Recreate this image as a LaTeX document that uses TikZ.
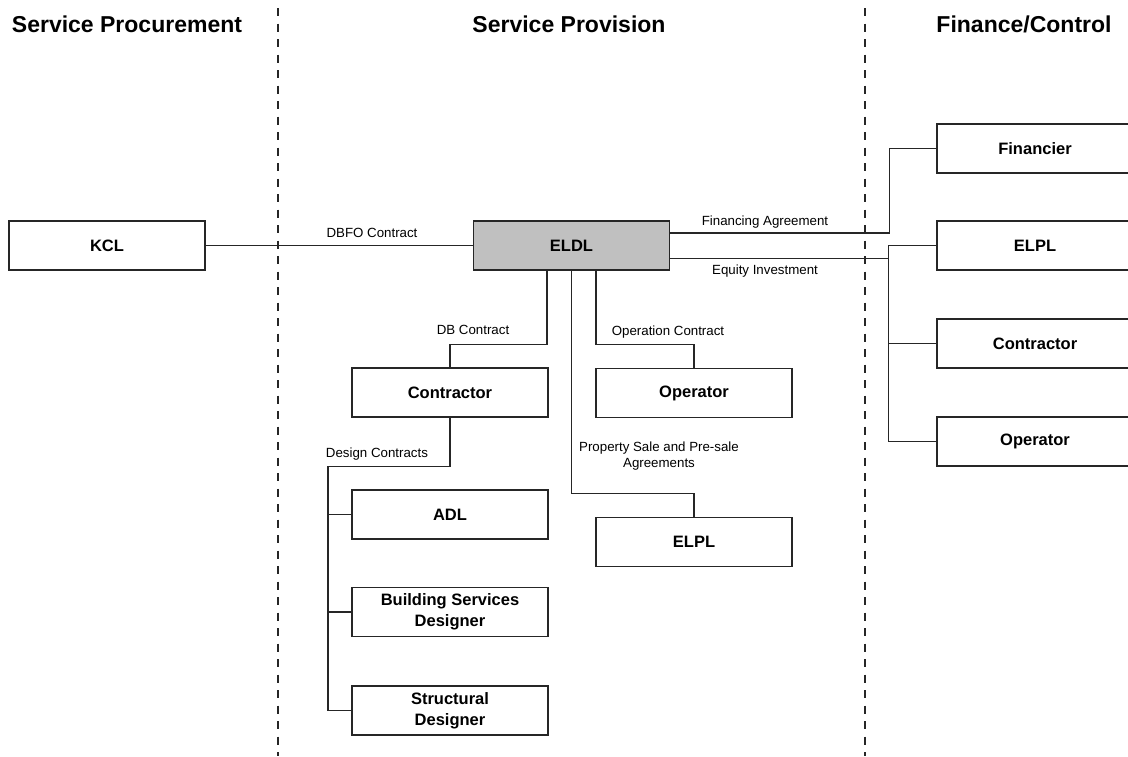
\documentclass[tikz,border=0pt]{standalone}
\usepackage{fontspec}
\setmainfont{Liberation Sans}
\definecolor{eldlgray}{RGB}{192,192,192}
\begin{document}
\begin{tikzpicture}[x=1pt,y=-1pt,
  line width=1.2pt,
  entity/.style={draw=black!85, fill=white, minimum width=196pt, minimum height=49pt,
    inner sep=0pt, align=center, font=\fontsize{16.5}{21}\selectfont\bfseries},
  lead/.style={draw=black!85, fill=eldlgray},
  tag/.style={inner sep=0pt, anchor=base, align=center, font=\fontsize{13.3}{16}\selectfont},
  heading/.style={inner sep=0pt, anchor=base, font=\fontsize{23}{27}\selectfont\bfseries},
  conn/.style={draw=black!85},
  divider/.style={draw=black!85, dash pattern=on 8pt off 7.5pt}]
\useasboundingbox (0,0) rectangle (1128,756);

% column dividers
\draw[divider] (278,8) -- (278,756);
\draw[divider] (865,8) -- (865,756);

% column headings
\node[heading] (h1) at (127,32) {Service Procurement};
\node[heading] (h2) at (569,32) {Service Provision};
\node[heading] (h3) at (1024,32) {Finance/Control};

% entities
\node[entity] (kcl) at (107,245.5) {KCL};
\node[entity, lead] (eldl) at (571.5,245.5) {ELDL};
\node[entity] (con) at (450,392.5) {Contractor};
\node[entity] (opr) at (694,393) {Operator};
\node[entity] (adl) at (450,514.5) {ADL};
\node[entity] (bsd) at (450,612) {Building Services\\Designer};
\node[entity] (sd) at (450,710.5) {Structural\\Designer};
\node[entity] (elplm) at (694,542) {ELPL};
\node[entity] (fin) at (1035,148.5) {Financier};
\node[entity] (elplr) at (1035,245.5) {ELPL};
\node[entity] (conr) at (1035,343.5) {Contractor};
\node[entity] (oprr) at (1035,441.5) {Operator};

% connectors
\draw[conn] (kcl.east) -- (eldl.west);
\draw[conn] ([xshift=-24.5pt]eldl.south) -- ++(0,74) -| (con.north);
\draw[conn] ([xshift=24.5pt]eldl.south) -- ++(0,74) -| (opr.north);
\draw[conn] (eldl.south) -- ++(0,223) -| (elplm.north);
\draw[conn] (con.south) -- ++(0,49) -- ++(-122,0) |- (sd.west);
\draw[conn] (adl.west) -- ++(-24,0);
\draw[conn] (bsd.west) -- ++(-24,0);
\draw[conn] ([yshift=12.5pt]eldl.east) -- ++(219,0) |- (fin.west);
\draw[conn] ([yshift=-13pt]eldl.east) -- ++(219,0);
\draw[conn] (elplr.west) -- ++(-48,0) |- (oprr.west);
\draw[conn] (conr.west) -- ++(-48,0);

% connector labels
\node[tag] (t1) at (372,237) {DBFO Contract};
\node[tag] (t2) at (765,225) {Financing Agreement};
\node[tag] (t3) at (765,274) {Equity Investment};
\node[tag] (t4) at (473,334) {DB Contract};
\node[tag] (t5) at (668,335) {Operation Contract};
\node[tag] (t6) at (377,457.5) {Design Contracts};
\node[tag] (t7) at (659,467) {Property Sale and Pre-sale\\Agreements};
\end{tikzpicture}
\end{document}
